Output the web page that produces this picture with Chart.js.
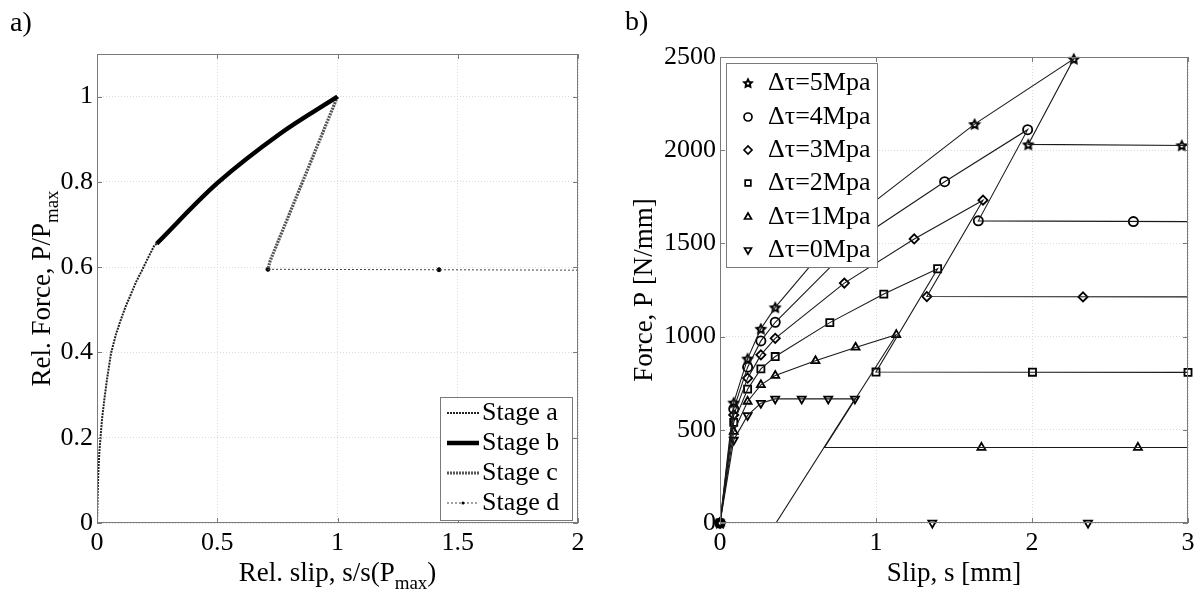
<!DOCTYPE html>
<html>
<head>
<meta charset="utf-8">
<script src="https://cdn.jsdelivr.net/npm/chart.js@4.4.1/dist/chart.umd.min.js"></script>
<style>
  body { margin: 0; background: #fff; }
  #wrap { position: relative; width: 1201px; height: 591px; }
  canvas { position: absolute; top: 0; }
</style>
</head>
<body>
<div id="wrap">
  <canvas id="chartA" width="600" height="591" style="left:0"></canvas>
  <canvas id="chartB" width="601" height="591" style="left:600px"></canvas>
</div>
<script>
const FONT = "'Liberation Serif', 'Times New Roman', serif";

// ---- panel a) relative force vs relative slip ----
const stageLabels = ['Stage a', 'Stage b', 'Stage c', 'Stage d'];
const stageA = [[0, 0], [0.003, 0.07], [0.0055, 0.117], [0.0097, 0.165], [0.0139, 0.196], [0.0208, 0.243],
  [0.0305, 0.29], [0.0416, 0.337], [0.0582, 0.398], [0.079, 0.443], [0.0998, 0.478], [0.1206, 0.51],
  [0.1414, 0.537], [0.1622, 0.565], [0.183, 0.588], [0.2107, 0.62], [0.2384, 0.651], [0.248, 0.655]];
const stageB = [[0.248, 0.655], [0.5, 0.797], [0.761, 0.913], [1, 1]];
const stageC = [[1, 1], [0.72, 0.615], [0.711, 0.595]];
const stageD = [[0.711, 0.595], [1.422, 0.594], [2, 0.593]];
const stageDMarks = [[0.711, 0.595], [1.422, 0.594]];
const xTicksA = [0, 0.5, 1, 1.5, 2];
const yTicksA = [0, 0.2, 0.4, 0.6, 0.8, 1];

// ---- panel b) force vs slip for several dtau ----
const tauLabels = ['Δτ=5Mpa', 'Δτ=4Mpa', 'Δτ=3Mpa', 'Δτ=2Mpa', 'Δτ=1Mpa', 'Δτ=0Mpa'];
const tau5Line = [[0, 0], [0.088, 646], [0.177, 882], [0.262, 1042], [0.354, 1157], [0.572, 1373], [1.0, 1731],
  [1.632, 2140], [2.268, 2490], [1.976, 2031], [3, 2025]];
const tau5Marks = [[0, 0], [0.088, 646], [0.177, 882], [0.262, 1042], [0.354, 1157], [1.632, 2140],
  [2.268, 2490], [1.976, 2031], [2.96, 2026]];
const tau4Line = [[0, 0], [0.088, 612], [0.177, 836], [0.262, 977], [0.354, 1077], [0.707, 1373], [1.0, 1585],
  [1.44, 1831], [1.972, 2110], [1.656, 1621], [3, 1617]];
const tau4Marks = [[0, 0], [0.088, 612], [0.177, 836], [0.262, 977], [0.354, 1077], [1.44, 1831],
  [1.972, 2110], [1.656, 1621], [2.65, 1617]];
const tau3Line = [[0, 0], [0.088, 580], [0.177, 777], [0.262, 902], [0.354, 991], [0.797, 1287], [1.245, 1524],
  [1.686, 1732], [1.326, 1215], [3, 1213]];
const tau3Marks = [[0, 0], [0.088, 580], [0.177, 777], [0.262, 902], [0.354, 991], [0.797, 1287], [1.245, 1524],
  [1.686, 1732], [1.326, 1215], [2.327, 1213]];
const tau2Line = [[0, 0], [0.088, 540], [0.177, 718], [0.262, 827], [0.354, 893], [0.704, 1075], [1.05, 1228],
  [1.395, 1364], [1.0, 810], [3, 808]];
const tau2Marks = [[0, 0], [0.088, 540], [0.177, 718], [0.262, 827], [0.354, 893], [0.704, 1075], [1.05, 1228],
  [1.395, 1364], [1.0, 810], [2.003, 809], [3, 808]];
const tau1Line = [[0, 0], [0.088, 490], [0.177, 652], [0.262, 741], [0.354, 791], [0.612, 870], [0.869, 942],
  [1.13, 1010], [0.67, 405], [3, 405]];
const tau1Marks = [[0, 0], [0.088, 490], [0.177, 652], [0.262, 741], [0.354, 791], [0.612, 870], [0.869, 942],
  [1.13, 1010], [1.676, 405], [2.679, 405]];
const tau0Line = [[0, 0], [0.088, 445], [0.177, 577], [0.262, 643], [0.354, 666], [0.524, 666], [0.694, 666],
  [0.865, 666], [0.359, 0], [3, 0]];
const tau0Marks = [[0, 0], [0.088, 445], [0.177, 577], [0.262, 643], [0.354, 666], [0.524, 666], [0.694, 666],
  [0.865, 666], [1.361, 0], [2.359, 0]];
const xTicksB = [0, 1, 2, 3];
const yTicksB = [0, 500, 1000, 1500, 2000, 2500];

const pts = (arr) => arr.map(([x, y]) => ({ x, y }));

// matlab style pentagram marker
const makePentagram = (r) => {
  const c = document.createElement('canvas');
  const s = Math.ceil(r * 2 + 4);
  c.width = s; c.height = s;
  const g = c.getContext('2d');
  g.translate(s / 2, s / 2 + 0.5);
  g.beginPath();
  for (let i = 0; i < 10; i++) {
    const a = -Math.PI / 2 + i * Math.PI / 5;
    const rr = i % 2 ? r * 0.5 : r;
    g.lineTo(rr * Math.cos(a), rr * Math.sin(a));
  }
  g.closePath();
  g.lineWidth = 2;
  g.strokeStyle = '#000';
  g.stroke();
  return c;
};
const star = makePentagram(4.6);
const starSmall = makePentagram(4);

const drawParts = (ctx, parts, cx, baseY, size) => {
  const widths = parts.map(([t, sub]) => {
    ctx.font = (sub ? 19 : size) + 'px ' + FONT;
    return ctx.measureText(t).width;
  });
  let x = cx - widths.reduce((s, w) => s + w, 0) / 2;
  parts.forEach(([t, sub], i) => {
    ctx.font = (sub ? 19 : size) + 'px ' + FONT;
    ctx.fillText(t, x, baseY + (sub ? 8 : 0));
    x += widths[i];
  });
};

const decor = {
  id: 'decor',
  afterDatasetsDraw(chart, args, o) {
    const ctx = chart.ctx;
    const a = chart.chartArea;
    const xs = chart.scales.x;
    const ys = chart.scales.y;
    ctx.save();
    ctx.strokeStyle = '#7a7a7a';
    ctx.lineWidth = 1;
    ctx.strokeRect(a.left + 0.5, a.top + 0.5, a.right - a.left - 1, a.bottom - a.top - 1);
    ctx.beginPath();
    xs.ticks.forEach((t) => {
      const px = Math.round(xs.getPixelForValue(t.value)) + 0.5;
      ctx.moveTo(px, a.bottom); ctx.lineTo(px, a.bottom - 5);
      ctx.moveTo(px, a.top); ctx.lineTo(px, a.top + 5);
    });
    ys.ticks.forEach((t) => {
      const py = Math.round(ys.getPixelForValue(t.value)) + 0.5;
      ctx.moveTo(a.left, py); ctx.lineTo(a.left + 5, py);
      ctx.moveTo(a.right, py); ctx.lineTo(a.right - 5, py);
    });
    ctx.stroke();

    // legend box
    const lg = o.legend;
    const [bx0, by0, bx1, by1] = lg.box;
    ctx.fillStyle = '#fff';
    ctx.fillRect(bx0, by0, bx1 - bx0, by1 - by0);
    ctx.strokeStyle = '#7a7a7a';
    ctx.strokeRect(bx0 + 0.5, by0 + 0.5, bx1 - bx0, by1 - by0);
    ctx.font = '26px ' + FONT;
    ctx.textBaseline = 'middle';
    ctx.textAlign = 'left';
    lg.items.forEach((it, i) => {
      const y = lg.rowY[i];
      if (it.line) {
        ctx.strokeStyle = it.color;
        ctx.lineWidth = it.width;
        ctx.setLineDash(it.dash || []);
        ctx.beginPath();
        ctx.moveTo(lg.sampleX[0], y);
        ctx.lineTo(lg.sampleX[1], y);
        ctx.stroke();
        ctx.setLineDash([]);
        if (it.dot) {
          ctx.fillStyle = '#000';
          ctx.beginPath();
          ctx.arc((lg.sampleX[0] + lg.sampleX[1]) / 2, y, 1.5, 0, Math.PI * 2);
          ctx.fill();
        }
      } else {
        ctx.strokeStyle = '#000';
        ctx.fillStyle = 'rgba(0,0,0,0)';
        ctx.lineWidth = 1.7;
        Chart.helpers.drawPoint(ctx, { pointStyle: it.style, rotation: it.rotation || 0, radius: 4, borderWidth: 1.7 },
          lg.sampleX[0], y);
      }
      ctx.fillStyle = '#000';
      ctx.fillText(it.label, lg.textX, y);
    });
    ctx.restore();
  },
  afterDraw(chart, args, o) {
    const ctx = chart.ctx;
    const a = chart.chartArea;
    ctx.save();
    ctx.fillStyle = '#000';
    ctx.textBaseline = 'alphabetic';
    ctx.textAlign = 'left';
    ctx.font = '28px ' + FONT;
    ctx.fillText(o.panel, o.panelPos[0], o.panelPos[1]);
    drawParts(ctx, o.xTitle, (a.left + a.right) / 2, o.xTitleY, 27);
    ctx.translate(o.yTitleX, (a.top + a.bottom) / 2);
    ctx.rotate(-Math.PI / 2);
    drawParts(ctx, o.yTitle, 0, 0, 27);
    ctx.restore();
  }
};

const axisFont = { family: FONT, size: 26 };
const makeScales = (xTicks, yTicks, xMax, yMax, yWidth) => ({
  x: {
    type: 'linear', min: 0, max: xMax,
    afterBuildTicks: (s) => { s.ticks = xTicks.map((v) => ({ value: v })); },
    afterFit: (s) => { s.height = 68; },
    ticks: { font: axisFont, color: '#000', padding: 5, autoSkip: false, maxRotation: 0, callback: (v) => String(v) },
    grid: { color: '#dadada', drawTicks: false },
    border: { display: false, dash: [1, 2] }
  },
  y: {
    type: 'linear', min: 0, max: yMax,
    afterBuildTicks: (s) => { s.ticks = yTicks.map((v) => ({ value: v })); },
    afterFit: (s) => { s.width = yWidth; },
    ticks: { font: axisFont, color: '#000', padding: 4, autoSkip: false, callback: (v) => String(v) },
    grid: { color: '#dadada', drawTicks: false },
    border: { display: false, dash: [1, 2] }
  }
});

const stageStyles = [
  { color: '#222', width: 2, dash: [2, 1] },
  { color: '#000', width: 4.5, dash: [] },
  { color: '#555', width: 3.2, dash: [2, 1] },
  { color: '#444', width: 1, dash: [2, 2] }
];
const stageData = [stageA, stageB, stageC, stageD];

new Chart(document.getElementById('chartA'), {
  type: 'scatter',
  data: {
    datasets: stageData.map((d, i) => ({
      label: stageLabels[i],
      data: pts(d),
      showLine: true,
      borderColor: stageStyles[i].color,
      borderWidth: stageStyles[i].width,
      borderDash: stageStyles[i].dash,
      tension: i === 1 ? 0.35 : 0,
      pointRadius: 0
    })).concat([{
      label: 'Stage d marks',
      data: pts(stageDMarks),
      showLine: false,
      pointRadius: 2,
      pointBackgroundColor: '#000',
      pointBorderColor: '#000',
      clip: false
    }])
  },
  options: {
    responsive: false,
    animation: false,
    events: [],
    layout: { padding: { left: 0, right: 22, top: 54, bottom: 0 } },
    scales: makeScales(xTicksA, yTicksA, 2, 1.1, 97),
    plugins: {
      legend: { display: false },
      tooltip: { enabled: false },
      decor: {
        panel: 'a)', panelPos: [10, 31],
        xTitle: [['Rel. slip, s/s(P', false], ['max', true], [')', false]], xTitleY: 581,
        yTitle: [['Rel. Force, P/P', false], ['max', true]], yTitleX: 50,
        legend: {
          box: [440, 397, 572, 520],
          rowY: [413, 443, 473, 503],
          sampleX: [447, 479],
          textX: 482,
          items: stageLabels.map((l, i) => ({ label: l, line: true, ...stageStyles[i], dot: i === 3 }))
        }
      }
    }
  },
  plugins: [decor]
});

const tauLines = [tau5Line, tau4Line, tau3Line, tau2Line, tau1Line, tau0Line];
const tauMarks = [tau5Marks, tau4Marks, tau3Marks, tau2Marks, tau1Marks, tau0Marks];
const tauStyles = [star, 'circle', 'rectRot', 'rect', 'triangle', 'triangle'];
const tauRot = [0, 0, 0, 0, 0, 180];

const lineSets = tauLines.map((d, i) => ({
  label: tauLabels[i] + ' line',
  data: pts(d),
  showLine: true,
  borderColor: '#1a1a1a',
  borderWidth: 1.1,
  pointRadius: 0
}));
const markSets = tauMarks.map((d, i) => ({
  label: tauLabels[i],
  data: pts(d),
  showLine: false,
  pointStyle: tauStyles[i],
  pointRotation: tauRot[i],
  pointRadius: i === 3 ? 5 : 4.6,
  pointBorderWidth: 1.8,
  pointBorderColor: '#000',
  pointBackgroundColor: 'rgba(255,255,255,0)',
  clip: false
}));

new Chart(document.getElementById('chartB'), {
  type: 'scatter',
  data: { datasets: lineSets.concat(markSets) },
  options: {
    responsive: false,
    animation: false,
    events: [],
    layout: { padding: { left: 0, right: 13, top: 57, bottom: 0 } },
    scales: makeScales(xTicksB, yTicksB, 3, 2500, 120),
    plugins: {
      legend: { display: false },
      tooltip: { enabled: false },
      decor: {
        panel: 'b)', panelPos: [25, 30],
        xTitle: [['Slip, s [mm]', false]], xTitleY: 581,
        yTitle: [['Force, P [N/mm]', false]], yTitleX: 52,
        legend: {
          box: [126, 63, 277, 267],
          rowY: [83, 117, 150, 183, 217, 250],
          sampleX: [148, 148],
          textX: 168,
          items: tauLabels.map((l, i) => ({ label: l, line: false, style: i === 0 ? starSmall : tauStyles[i], rotation: tauRot[i] }))
        }
      }
    }
  },
  plugins: [decor]
});
</script>
</body>
</html>
